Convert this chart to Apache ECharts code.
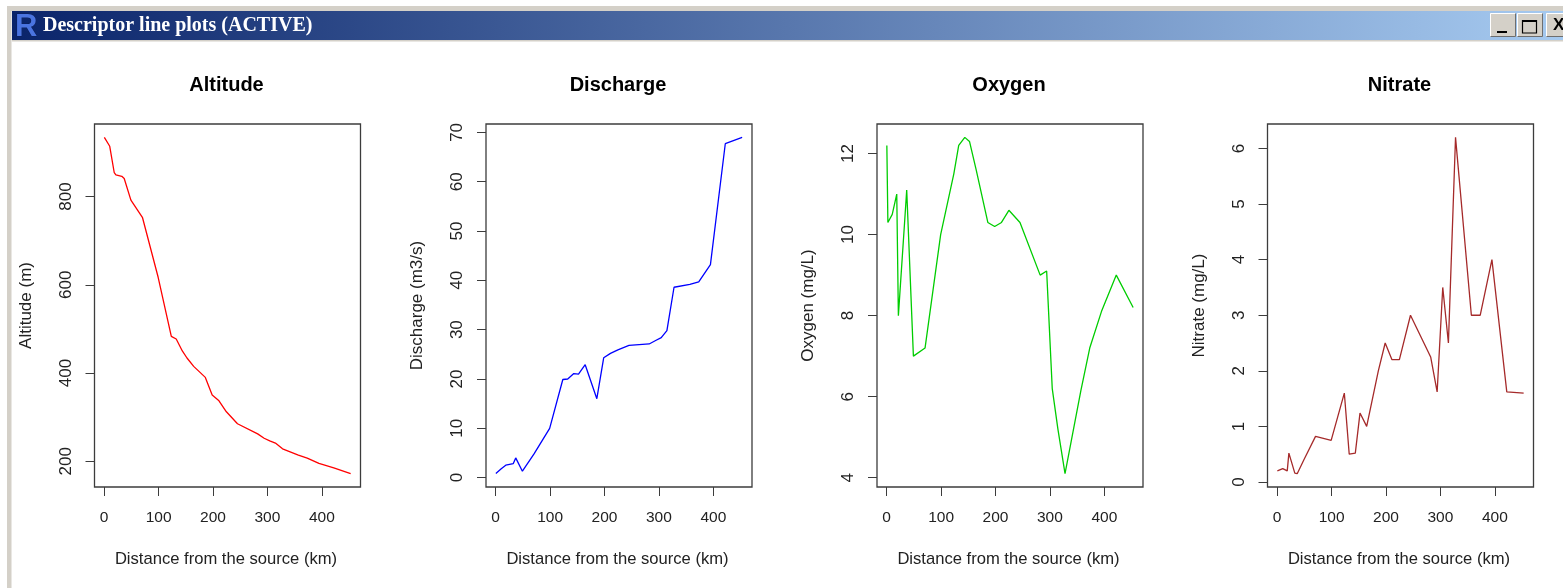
<!DOCTYPE html>
<html><head><meta charset="utf-8">
<style>html,body{margin:0;padding:0;background:#fff}#c{width:1563px;height:588px}</style>
<script src="https://cdn.jsdelivr.net/npm/echarts@6/dist/echarts.min.js"></script>
</head><body><div id="c"></div>
<script>
const distance=[0.3,2.2,10.2,18.5,21.5,32.4,36.8,49.1,70.5,99.2,123.4,132.4,143.6,152.2,164.5,185.9,198.5,211,224.6,245,282.1,294,304.3,314.7,327.8,356.9,373.2,394.7,422,453];
const altitude=[934,932,914,854,849,846,841,792,752,617,483,477,450,434,415,390,350,337,312,285,262,252,246,241,228,214,207,195,185,172];
const discharge=[0.84,1.0,1.8,2.53,2.64,2.86,4.0,1.3,4.8,10,19.9,20,21.1,21,22.9,16,24.3,25.2,25.9,26.8,27.1,27.8,28.4,29.8,38.6,39.2,39.7,43.2,67.7,69];
const oxygen=[12.2,10.3,10.5,11,8,10.2,11.1,7,7.2,10,11.5,12.2,12.4,12.3,11.6,10.3,10.2,10.3,10.6,10.3,9,9.1,6.2,5.2,4.1,6.15,7.2,8.1,9,8.2];
const nitrate=[0.2,0.2,0.24,0.2,0.52,0.16,0.15,0.4,0.82,0.75,1.6,0.5,0.52,1.24,1,2,2.5,2.2,2.2,3,2.25,1.62,3.5,2.5,6.2,3,3,4,1.62,1.6];
const xTicks=[0,100,200,300,400];
const altTicks=[200,400,600,800];
const disTicks=[0,10,20,30,40,50,60,70];
const oxyTicks=[4,6,8,10,12];
const nitTicks=[0,1,2,3,4,5,6];
const xLabel='Distance from the source (km)';
const panels=[
 {title:'Altitude',yName:'Altitude (m)',data:altitude,ticks:altTicks,color:'#ff0000',left:94.5,ymin:141.5,ymax:964.5},
 {title:'Discharge',yName:'Discharge (m3/s)',data:discharge,ticks:disTicks,color:'#0000ff',left:486,ymin:-1.9,ymax:71.7},
 {title:'Oxygen',yName:'Oxygen (mg/L)',data:oxygen,ticks:oxyTicks,color:'#00cd00',left:877,ymin:3.77,ymax:12.73},
 {title:'Nitrate',yName:'Nitrate (mg/L)',data:nitrate,ticks:nitTicks,color:'#a52a2a',left:1267.5,ymin:-0.09,ymax:6.44}
];
const W=266,TOP=124,H=363,FONT='"Liberation Sans",Arial,sans-serif',INK='#222',BOX='#3c3c3c';
const grid=[],xAxis=[],yAxis=[],series=[],title=[];
panels.forEach((p,i)=>{
 grid.push({left:p.left,top:TOP,width:W,height:H,show:true,borderColor:BOX,borderWidth:1.3,backgroundColor:'transparent',containLabel:false});
 title.push({text:p.title,left:p.left+W/2-6,top:70,textAlign:'center',textStyle:{fontFamily:FONT,fontSize:20,fontWeight:'bold',color:'#000'}});
 xAxis.push({gridIndex:i,type:'value',min:-17.8,max:471.1,name:xLabel,nameLocation:'middle',nameGap:64,
  nameTextStyle:{fontFamily:FONT,fontSize:16.6,color:INK,padding:[0,3,0,0]},
  axisLine:{show:false,onZero:false},splitLine:{show:false},
  axisTick:{show:true,length:9,customValues:xTicks,lineStyle:{color:BOX,width:1}},
  axisLabel:{customValues:xTicks,margin:23,fontFamily:FONT,fontSize:15.5,color:INK}});
 yAxis.push({gridIndex:i,type:'value',min:p.ymin,max:p.ymax,name:p.yName,nameLocation:'middle',nameGap:60,
  nameTextStyle:{fontFamily:FONT,fontSize:17,color:INK},
  axisLine:{show:false,onZero:false},splitLine:{show:false},
  axisTick:{show:true,length:9,customValues:p.ticks,lineStyle:{color:BOX,width:1}},
  axisLabel:{customValues:p.ticks,rotate:90,margin:20,fontFamily:FONT,fontSize:17,color:INK}});
 series.push({type:'line',xAxisIndex:i,yAxisIndex:i,data:distance.map((d,k)=>[d,p.data[k]]),showSymbol:false,symbol:'none',silent:true,animation:false,
  lineStyle:{color:p.color,width:1.3}});
});
const BTN='#d4d0c8';
const btn=(x,w)=>[
 {type:'rect',shape:{x,y:13,width:w,height:24},style:{fill:BTN}},
 {type:'polyline',shape:{points:[[x+.5,36.5],[x+.5,13.5],[x+w-.5,13.5]]},style:{fill:'none',stroke:'#fff',lineWidth:1}},
 {type:'polyline',shape:{points:[[x+.5,36.5],[x+w-.5,36.5],[x+w-.5,13.5]]},style:{fill:'none',stroke:'#6e6e6e',lineWidth:1}}
];
const graphic=[
 {type:'rect',shape:{x:7,y:6,width:1556,height:5},style:{fill:'#d4d0c8'}},
 {type:'rect',shape:{x:7,y:6,width:4.5,height:582},style:{fill:'#d4d0c8'}},
 {type:'rect',shape:{x:12,y:11,width:1551,height:29},style:{fill:new echarts.graphic.LinearGradient(0,0,1,0,[{offset:0,color:'#0a246a'},{offset:1,color:'#a6caf0'}])}},
 {type:'rect',shape:{x:12,y:40,width:1551,height:1.5},style:{fill:'#d4d0c8'}},
 {type:'text',style:{x:15,y:11.5,text:'R',font:'bold 31px "Liberation Sans"',fill:'#4a74e0',stroke:'#0a1a50',lineWidth:0.6}},
 {type:'text',style:{x:43,y:15.5,text:'Descriptor line plots (ACTIVE)',font:'bold 20px "Liberation Serif"',fill:'#fff'}},
 ...btn(1490,26),...btn(1517,26),...btn(1546,26),
 {type:'rect',shape:{x:1497,y:31,width:10,height:2},style:{fill:'#000'}},
 {type:'rect',shape:{x:1522.5,y:20.5,width:14,height:12.5},style:{fill:'none',stroke:'#000',lineWidth:1.2}},
 {type:'rect',shape:{x:1522,y:20,width:15,height:2},style:{fill:'#000'}},
 {type:'text',style:{x:1553,y:17,text:'X',font:'bold 17px "Liberation Sans"',fill:'#000'}}
];
const chart=echarts.init(document.getElementById('c'),null,{renderer:'canvas'});
chart.setOption({animation:false,backgroundColor:'#fff',title,grid,xAxis,yAxis,series,graphic});
</script></body></html>
